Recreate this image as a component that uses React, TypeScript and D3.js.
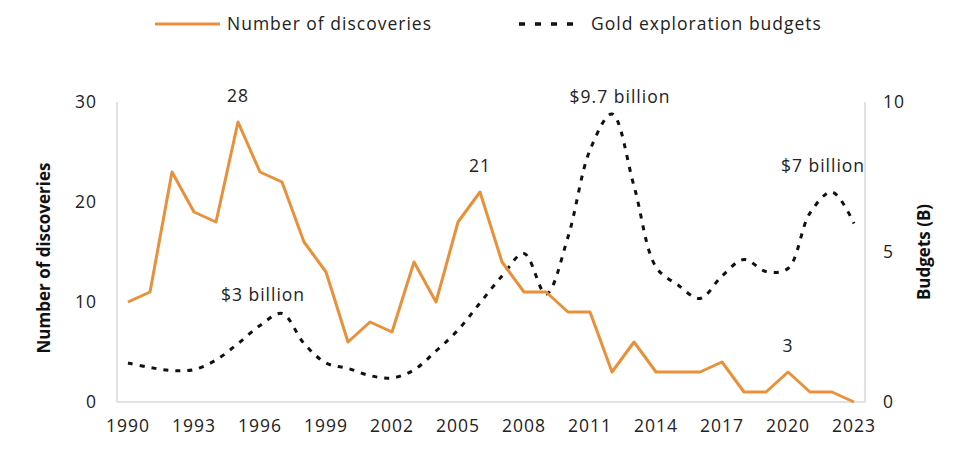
import * as d3 from 'd3';
import React from 'react';

const years = d3.range(1990, 2024);
const discoveries = [10, 11, 23, 19, 18, 28, 23, 22, 16, 13, 6, 8, 7, 14, 10, 18, 21, 14, 11, 11, 9, 9, 3, 6, 3, 3, 3, 4, 1, 1, 3, 1, 1, 0];
const budgets = [1.3, 1.15, 1.05, 1.08, 1.4, 1.95, 2.55, 2.95, 1.95, 1.3, 1.12, 0.88, 0.8, 1.07, 1.7, 2.4, 3.3, 4.2, 4.95, 3.6, 5.5, 8.4, 9.6, 7.2, 4.5, 3.9, 3.45, 4.2, 4.75, 4.35, 4.45, 6.3, 7.0, 5.95];
const xTicks = [1990, 1993, 1996, 1999, 2002, 2005, 2008, 2011, 2014, 2017, 2020, 2023];
const leftTicks = [0, 10, 20, 30];
const rightTicks = [0, 5, 10];

const ORANGE = "#E8913A";
const FONT = "'Open Sans', 'Liberation Sans', sans-serif";

const App: React.FC = () => {
  const width = 960;
  const height = 466;
  const margin = { top: 102, right: 95, bottom: 64, left: 117 };
  const plotRight = width - margin.right;
  const plotBottom = height - margin.bottom;

  const x = d3.scaleLinear().domain([1990, 2023]).range([margin.left + 11, plotRight - 11]);
  const yLeft = d3.scaleLinear().domain([0, 30]).range([plotBottom, margin.top]);
  const yRight = d3.scaleLinear().domain([0, 10]).range([plotBottom, margin.top]);

  const discLine = d3.line<number>()
    .x((_, i) => x(years[i]))
    .y(d => yLeft(d));

  const budgetLine = d3.line<number>()
    .x((_, i) => x(years[i]))
    .y(d => yRight(d))
    .curve(d3.curveCatmullRom.alpha(0.5));

  const textStyle = { fontFamily: FONT, fontSize: 17.5, fill: "#222", letterSpacing: 1 };

  // annotation labels, placed relative to the data points
  const notes = [
    { text: "28", year: 1995, dx: 0, y: yLeft(28) - 20 },
    { text: "21", year: 2006, dx: 0, y: yLeft(21) - 20 },
    { text: "$3 billion", year: 1997, dx: -19, y: yRight(2.95) - 13 },
    { text: "$9.7 billion", year: 2012, dx: 8, y: yRight(9.6) - 11 },
    { text: "$7 billion", year: 2022, dx: -9, y: yRight(7.0) - 20 },
    { text: "3", year: 2020, dx: 0, y: yLeft(3) - 20 },
  ];

  return (
    <svg width={width} height={height} style={{ display: "block", position: "absolute", left: 0, top: 0, background: "#fff" }}>
      {/* legend */}
      <line x1={155} x2={220} y1={24} y2={24} stroke={ORANGE} strokeWidth={3} />
      <text x={227} y={30} {...textStyle}>Number of discoveries</text>
      <line x1={519} x2={576} y1={24} y2={24} stroke="#111" strokeWidth={3.5} strokeDasharray="6,10" />
      <text x={591} y={30} {...textStyle}>Gold exploration budgets</text>

      {/* axis lines */}
      <line x1={margin.left} x2={margin.left} y1={margin.top} y2={plotBottom} stroke="#d9d9d9" strokeWidth={1.5} />
      <line x1={plotRight} x2={plotRight} y1={margin.top} y2={plotBottom} stroke="#d9d9d9" strokeWidth={1.5} />
      <line x1={margin.left} x2={plotRight} y1={plotBottom} y2={plotBottom} stroke="#d9d9d9" strokeWidth={1.5} />

      {/* left ticks */}
      {leftTicks.map(t => (
        <text key={`l${t}`} x={97} y={yLeft(t)} dy="0.35em" textAnchor="end" {...textStyle}>{t}</text>
      ))}
      {/* right ticks */}
      {rightTicks.map(t => (
        <text key={`r${t}`} x={883} y={yRight(t)} dy="0.35em" textAnchor="start" {...textStyle}>{t}</text>
      ))}
      {/* x ticks */}
      {xTicks.map(t => (
        <text key={`x${t}`} x={x(t)} y={plotBottom + 30} textAnchor="middle" {...textStyle}>{t}</text>
      ))}

      {/* axis titles */}
      <text transform={`translate(50,${(margin.top + plotBottom) / 2 + 6}) rotate(-90)`} textAnchor="middle"
        fontFamily={FONT} fontSize={17} fontWeight="bold" fill="#111">Number of discoveries</text>
      <text transform={`translate(930,${(margin.top + plotBottom) / 2}) rotate(-90)`} textAnchor="middle"
        fontFamily={FONT} fontSize={17} fontWeight="bold" fill="#111">Budgets (B)</text>

      {/* series */}
      <path d={budgetLine(budgets) ?? ""} fill="none" stroke="#111" strokeWidth={3} strokeDasharray="5,7" />
      <path d={discLine(discoveries) ?? ""} fill="none" stroke={ORANGE} strokeWidth={3} strokeLinejoin="round" />

      {/* annotations */}
      {notes.map(n => (
        <text key={n.text} x={x(n.year) + n.dx} y={n.y} textAnchor="middle" {...textStyle}>{n.text}</text>
      ))}
    </svg>
  );
};

export default App;
